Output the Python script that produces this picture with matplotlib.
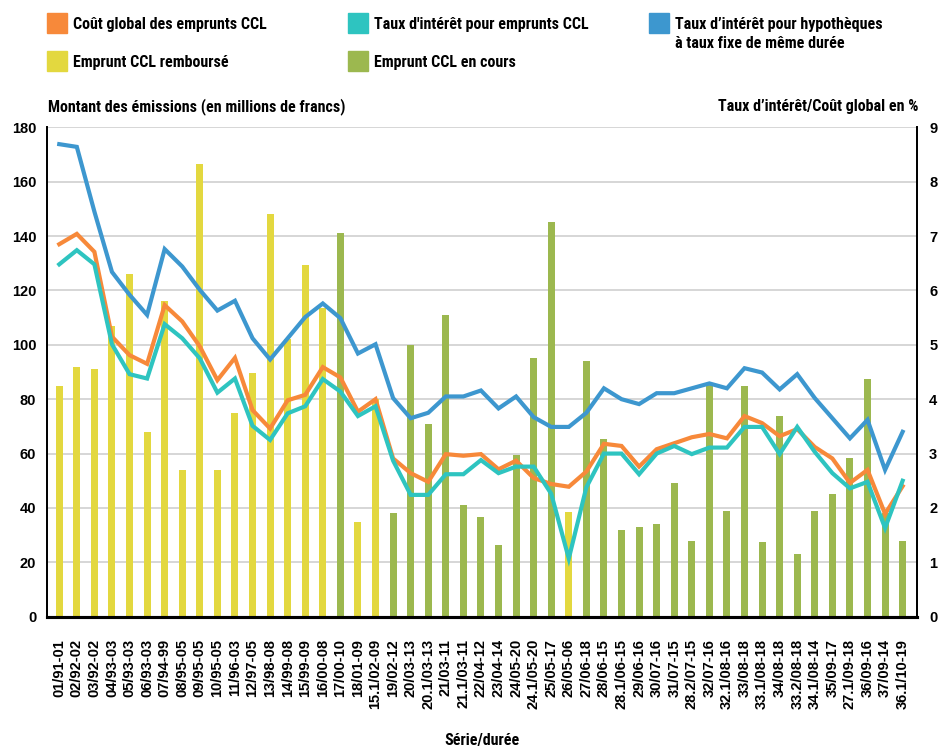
import matplotlib
matplotlib.use("Agg")
import matplotlib.pyplot as plt
from matplotlib import font_manager
from matplotlib.patches import Rectangle
import numpy as np

# Data

series = ["01/91-01", "02/92-02", "03/92-02", "04/93-03", "05/93-03", "06/93-03",
          "07/94-99", "08/95-05", "09/95-05", "10/95-05", "11/96-03", "12/97-05",
          "13/98-08", "14/99-08", "15/99-09", "16/00-08", "17/00-10", "18/01-09",
          "15.1/02-09", "19/02-12", "20/03-13", "20.1/03-13", "21/03-11", "21.1/03-11",
          "22/04-12", "23/04-14", "24/05-20", "24.1/05-20", "25/05-17", "26/05-06",
          "27/06-18", "28/06-15", "28.1/06-15", "29/06-16", "30/07-16", "31/07-15",
          "28.2/07-15", "32/07-16", "32.1/08-16", "33/08-18", "33.1/08-18", "34/08-18",
          "33.2/08-18", "34.1/08-14", "35/09-17", "27.1/09-18", "36/09-16", "37/09-14",
          "36.1/10-19"]

# issue amount (millions CHF)
amounts = [85, 92, 91, 107, 126, 68, 116, 54, 166.5, 54, 75, 89.5,
           148, 102, 129.5, 113.5, 141, 35, 80, 38, 100, 71, 111, 41,
           36.5, 26.5, 59.5, 95, 145, 38.5, 94, 65.5, 32, 33, 34, 49,
           28, 86, 39, 85, 27.5, 74, 23, 39, 45, 58.5, 87.5, 38, 28]

# R = remboursé, C = en cours
status = ["R"] * 16 + ["C", "R", "R"] + ["C"] * 10 + ["R"] + ["C"] * 19

# rates in %
cout_global = [6.85, 7.04, 6.71, 5.15, 4.81, 4.65, 5.73, 5.43, 4.97, 4.35, 4.76, 3.80,
               3.46, 3.98, 4.08, 4.59, 4.40, 3.77, 4.00, 2.91, 2.64, 2.48, 2.99, 2.96,
               2.99, 2.71, 2.87, 2.55, 2.44, 2.39, 2.67, 3.18, 3.14, 2.76, 3.08, 3.19,
               3.30, 3.36, 3.28, 3.69, 3.56, 3.32, 3.45, 3.12, 2.91, 2.46, 2.70, 1.89, 2.40]
taux_ccl = [6.48, 6.74, 6.48, 5.01, 4.46, 4.38, 5.38, 5.12, 4.75, 4.12, 4.38, 3.51,
            3.25, 3.74, 3.87, 4.37, 4.14, 3.69, 3.87, 2.87, 2.24, 2.24, 2.62, 2.62,
            2.88, 2.64, 2.76, 2.76, 2.26, 1.07, 2.38, 3.00, 3.00, 2.62, 3.00, 3.14,
            2.99, 3.11, 3.11, 3.49, 3.49, 2.99, 3.49, 3.03, 2.64, 2.36, 2.48, 1.63, 2.50]
taux_hypo = [8.69, 8.64, 7.45, 6.34, 5.92, 5.55, 6.76, 6.44, 6.01, 5.63, 5.81, 5.12,
             4.73, 5.12, 5.51, 5.76, 5.49, 4.84, 5.01, 4.02, 3.65, 3.75, 4.05, 4.05,
             4.16, 3.83, 4.05, 3.67, 3.49, 3.49, 3.75, 4.20, 4.00, 3.91, 4.11, 4.11,
             4.20, 4.29, 4.20, 4.57, 4.49, 4.18, 4.46, 4.02, 3.65, 3.28, 3.62, 2.70, 3.40]

# Colours
c_orange = "#F7893A"
c_teal = "#2EC4C0"
c_blue = "#3D97CF"
c_yellow = "#E3D83F"
c_green = "#9CB84F"

# Fonts: a narrow face for the titles/legend, if one is there
names = {f.name for f in font_manager.fontManager.ttflist}
narrow = "DejaVu Sans"
for cand in ["Roboto Condensed", "Open Sans Condensed", "Liberation Sans Narrow",
             "Lato", "Roboto"]:
    if cand in names:
        narrow = cand
        break
regular = "Liberation Sans" if "Liberation Sans" in names else "DejaVu Sans"

W, H = 939, 749
fig = plt.figure(figsize=(W / 100, H / 100), dpi=100)
ax = fig.add_axes([47.3 / W, 1 - 616.7 / H, (916.7 - 47.3) / W, (616.7 - 127.3) / H])
ax2 = ax.twinx()

# size the narrow text so the first legend label is as wide as in the reference
renderer = fig.canvas.get_renderer()
probe = fig.text(0, 0, "Coût global des emprunts CCL", family=narrow, fontsize=12,
                 fontweight="bold")
pw = probe.get_window_extent(renderer).width
probe.remove()
tsize = min(12.5, 12 * 194 / pw)

x = np.arange(len(series))
bar_colors = [c_yellow if s == "R" else c_green for s in status]
ax.bar(x, amounts, width=0.4, color=bar_colors, zorder=2)

ax2.plot(x, taux_hypo, color=c_blue, lw=3, solid_joinstyle="miter", zorder=3)
ax2.plot(x, cout_global, color=c_orange, lw=3, solid_joinstyle="miter", zorder=4)
ax2.plot(x, taux_ccl, color=c_teal, lw=3, solid_joinstyle="miter", zorder=5)

ax.set_xlim(-0.68, 48.8)
ax.set_ylim(0, 180)
ax2.set_ylim(0, 9)
ax.set_yticks(range(0, 181, 20))
ax2.set_yticks(range(0, 10))
ax.yaxis.grid(True, color="#cfcfcf", lw=1.2, zorder=0)
ax.set_axisbelow(True)

ax.set_xticks(x)
ax.set_xticklabels(series, rotation=90, fontsize=10.5, fontweight="bold",
                   family=regular)
ax.tick_params(axis="x", length=0, pad=16)
ax.tick_params(axis="y", length=0, pad=8)
ax2.tick_params(axis="y", length=0, pad=9)
for lab in ax.get_yticklabels() + ax2.get_yticklabels():
    lab.set_fontsize(10.5)
    lab.set_fontweight("bold")
    lab.set_family(regular)

for a in (ax, ax2):
    a.spines["top"].set_visible(False)
    a.spines["left"].set_linewidth(1.3)
    a.spines["right"].set_linewidth(1.3)
    a.spines["bottom"].set_linewidth(2.2)

# Axis titles
fig.text(48 / W, 1 - 107 / H, "Montant des émissions (en millions de francs)",
         family=narrow, fontsize=tsize, fontweight="bold", ha="left", va="center")
fig.text(918 / W, 1 - 107 / H, "Taux d\u2019intérêt/Coût global en %",
         family=narrow, fontsize=tsize, fontweight="bold", ha="right", va="center")
fig.text(482 / W, 1 - 740 / H, "Série/durée",
         family=narrow, fontsize=tsize, fontweight="bold", ha="center", va="center")

# Legend drawn by hand
legend_items = [
    (47, 13, c_orange, "Coût global des emprunts CCL"),
    (348, 13, c_teal, "Taux d'intérêt pour emprunts CCL"),
    (649, 13, c_blue, "Taux d\u2019intérêt pour hypothèques\nà taux fixe de même durée"),
    (47, 51, c_yellow, "Emprunt CCL remboursé"),
    (348, 51, c_green, "Emprunt CCL en cours"),
]
for px, py, col, txt in legend_items:
    fig.patches.append(Rectangle((px / W, 1 - (py + 20) / H), 20 / W, 20 / H,
                                 transform=fig.transFigure, color=col))
    for k, line in enumerate(txt.split("\n")):
        fig.text((px + 26) / W, 1 - (py + 11 + 19 * k) / H, line,
                 family=narrow, fontsize=tsize, fontweight="bold",
                 ha="left", va="center")

fig.savefig("out.png", dpi=100)
